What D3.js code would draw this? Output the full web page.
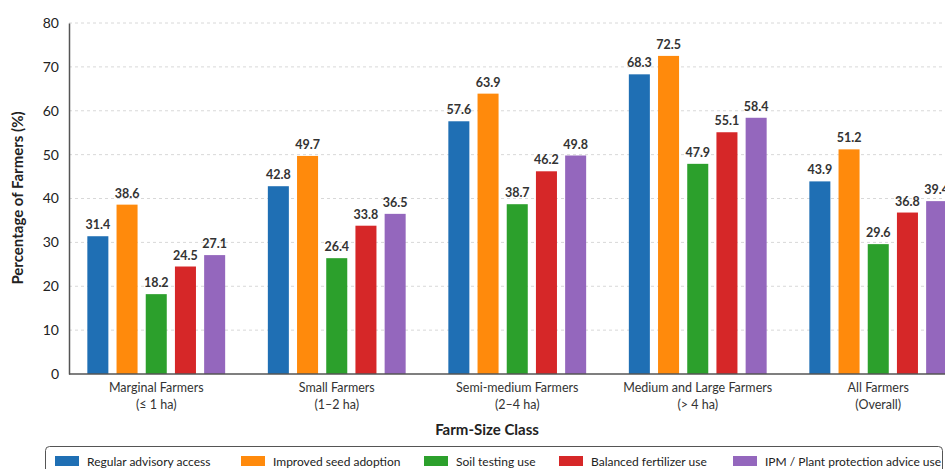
<!DOCTYPE html>
<html>
<head>
<meta charset="utf-8">
<script src="https://cdn.jsdelivr.net/npm/d3@7"></script>
<style>
  body { margin: 0; background: #fff; overflow: hidden; }
  text { font-family: Lato, "Open Sans", sans-serif; }
</style>
</head>
<body>
<script>
const width = 945;
const height = 469;

// categories (two-line labels)
const groups = ["Marginal Farmers", "Small Farmers", "Semi-medium Farmers", "Medium and Large Farmers", "All Farmers"];
const groupSub = ["(≤ 1 ha)", "(1–2 ha)", "(2–4 ha)", "(> 4 ha)", "(Overall)"];

const seriesNames = [
    "Regular advisory access",
    "Improved seed adoption",
    "Soil testing use",
    "Balanced fertilizer use",
    "IPM / Plant protection advice use",
];
const advisory = [31.4, 42.8, 57.6, 68.3, 43.9];
const seed = [38.6, 49.7, 63.9, 72.5, 51.2];
const soil = [18.2, 26.4, 38.7, 47.9, 29.6];
const fertilizer = [24.5, 33.8, 46.2, 55.1, 36.8];
const ipm = [27.1, 36.5, 49.8, 58.4, 39.4];
const seriesValues = [advisory, seed, soil, fertilizer, ipm];
const colours = ["#1f6fb4", "#ff8a0c", "#2ca02c", "#d62728", "#9467bd"];
const yTicks = [0, 10, 20, 30, 40, 50, 60, 70, 80];

const svg = d3
    .select("body")
    .append("svg")
    .attr("width", width)
    .attr("height", height);

const axisLeft = 69;
const y = d3.scaleLinear().domain([0, 80]).range([374, 23]);

const x0 = d3.scaleBand().domain(groups).range([66, 66 + 5 * 180.5]).padding(0);
const x1 = d3
    .scaleBand()
    .domain(d3.range(seriesNames.length))
    .range([0, 146])
    .paddingInner(0.28)
    .paddingOuter(0.14);

// gridlines
svg.append("g")
    .selectAll("line")
    .data(yTicks.slice(1))
    .enter()
    .append("line")
    .attr("x1", axisLeft)
    .attr("x2", width)
    .attr("y1", (d) => y(d))
    .attr("y2", (d) => y(d))
    .attr("stroke", "#d8d8d8")
    .attr("stroke-dasharray", "3,3")
    .attr("stroke-width", 1);

// bars
const groupG = svg
    .selectAll(".group")
    .data(groups)
    .enter()
    .append("g")
    .attr("class", "group")
    .attr("transform", (d) => `translate(${x0(d) + x0.bandwidth() / 2 - 73},0)`);

groupG.each(function (g, gi) {
    const sel = d3.select(this);
    seriesValues.forEach((vals, si) => {
        sel.append("rect")
            .attr("x", x1(si))
            .attr("width", x1.bandwidth())
            .attr("y", y(vals[gi]))
            .attr("height", y(0) - y(vals[gi]))
            .attr("fill", colours[si]);
        sel.append("text")
            .text(vals[gi].toFixed(1))
            .attr("x", x1(si) + x1.bandwidth() / 2)
            .attr("y", y(vals[gi]) - 7)
            .attr("text-anchor", "middle")
            .attr("font-size", "12.5px")
            .attr("font-weight", "bold")
            .attr("fill", "#333");
    });
});

// y axis
const yAxis = d3.axisLeft(y).tickValues(yTicks).tickSize(0).tickPadding(10);
const yG = svg.append("g").attr("transform", `translate(${axisLeft},0)`).call(yAxis);
yG.select(".domain").attr("stroke", "#555").attr("stroke-width", 1.5);
yG.selectAll("text").attr("font-size", "14px").attr("fill", "#222").attr("font-family", "Lato, sans-serif");

// x axis line
svg.append("line")
    .attr("x1", axisLeft)
    .attr("x2", width)
    .attr("y1", y(0))
    .attr("y2", y(0))
    .attr("stroke", "#555")
    .attr("stroke-width", 1.5);

// x labels
const xl = svg
    .selectAll(".xlab")
    .data(groups)
    .enter()
    .append("text")
    .attr("class", "xlab")
    .attr("text-anchor", "middle")
    .attr("font-size", "12.5px")
    .attr("fill", "#333")
    .attr("x", (d) => x0(d) + x0.bandwidth() / 2);
xl.append("tspan").attr("y", 392).text((d) => d);
xl.append("tspan")
    .attr("y", 409)
    .attr("x", (d) => x0(d) + x0.bandwidth() / 2)
    .text((d, i) => groupSub[i]);

// axis titles
svg.append("text")
    .text("Farm-Size Class")
    .attr("x", 487)
    .attr("y", 435)
    .attr("text-anchor", "middle")
    .attr("font-size", "15px")
    .attr("font-weight", "bold")
    .attr("fill", "#222");

svg.append("text")
    .text("Percentage of Farmers (%)")
    .attr("transform", "translate(23,198) rotate(-90)")
    .attr("text-anchor", "middle")
    .attr("font-size", "15px")
    .attr("font-weight", "bold")
    .attr("fill", "#222");

// legend
svg.append("rect")
    .attr("x", 45.5)
    .attr("y", 446.5)
    .attr("width", 897)
    .attr("height", 40)
    .attr("rx", 4)
    .attr("fill", "#fff")
    .attr("stroke", "#555")
    .attr("stroke-width", 1);

const legendX = [55, 241, 424, 559, 733];
const legendItems = svg
    .selectAll(".legend-item")
    .data(seriesNames)
    .enter()
    .append("g")
    .attr("class", "legend-item")
    .attr("transform", (d, i) => `translate(${legendX[i]}, 456)`);

legendItems
    .append("rect")
    .attr("width", 24)
    .attr("height", 10)
    .attr("fill", (d, i) => colours[i]);

legendItems
    .append("text")
    .text((d) => d)
    .attr("x", 32)
    .attr("y", 9.5)
    .attr("font-size", "12px")
    .attr("fill", "#222");
</script>
</body>
</html>
